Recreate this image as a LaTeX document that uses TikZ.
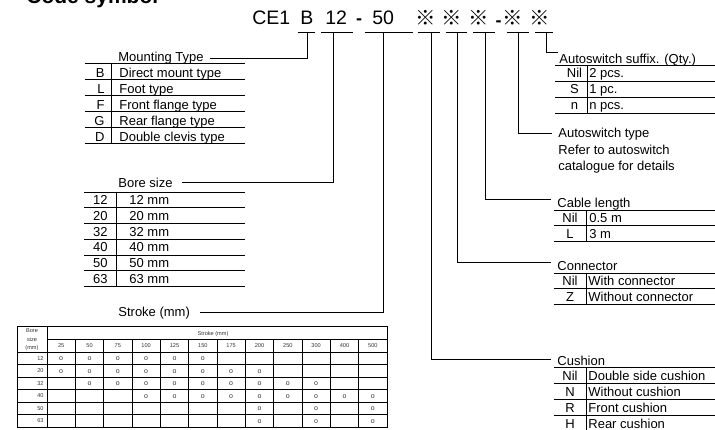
\documentclass[tikz,border=0pt]{standalone}
\usepackage{fontspec}
\setmainfont{Liberation Sans}
\newfontfamily\cjkf{Noto Sans CJK JP}
\begin{document}
\begin{tikzpicture}[x=1pt,y=-1pt,line width=0.8pt,
  txt/.style={inner sep=0pt,font=\fontsize{13}{15}\selectfont},
  hdr/.style={inner sep=0pt,font=\fontsize{19.5}{22}\selectfont,anchor=base west},
  refmark/.style={inner sep=0pt,font=\cjkf\fontsize{20.5}{22}\selectfont},
  dashmark/.style={inner sep=0pt,font=\bfseries\fontsize{18}{20}\selectfont,anchor=base},
  tiny/.style={inner sep=0pt,font=\fontsize{5.6}{6.5}\selectfont,text=black!80},
  circ/.style={inner sep=0pt,font=\fontsize{7}{8}\selectfont,text=black!80},
  rulel/.style={line width=0.8pt},
  thin/.style={line width=0.6pt},
  conn/.style={line width=0.9pt}]
\useasboundingbox (0,0) rectangle (715,429);
% title (cut off at top)
\node[inner sep=0pt,anchor=base west,font=\bfseries\fontsize{21}{24}\selectfont] (title) at (26,3.5) {Code symbol};
% header code
\node[hdr] (code) at (252,24.5) {CE1};
\node[hdr] (hB) at (300,24.5) {B};
\node[hdr] (h12) at (325,24.5) {12};
\node[dashmark] (d1) at (359,24.5) {-};
\node[hdr] (h50) at (372,24.5) {50};
\node[refmark] (s1) at (425.5,18) {※};
\node[refmark] (s2) at (452,18) {※};
\node[refmark] (s3) at (478.5,18) {※};
\node[dashmark] (d2) at (498.5,26) {-};
\node[refmark] (s4) at (512.5,18) {※};
\node[refmark] (s5) at (539.5,18) {※};
% underlines
\foreach \a/\b in {298/315,321/353,365/413,418/440,446/467,473/495,507/529,535/553}
  \draw[rulel] (\a,32) -- (\b,32);
\coordinate (uB) at (307,32);
\coordinate (u12) at (333,32);
\coordinate (u50) at (383,32);
\coordinate (u1) at (431,32);
\coordinate (u2) at (457,32);
\coordinate (u3) at (485,32);
\coordinate (u4) at (518,32);
\coordinate (u5) at (546,32);
% ---------- Mounting type ----------
\node[txt,anchor=base west] (mt) at (118,61.5) {Mounting Type};
\draw[conn] (uB) |- ([xshift=6pt]mt.east);
\draw[thin] (85,63) -- (245,63);
\draw[thin] (111,63) -- (111,143.5);
\foreach \y/\k/\t [count=\i] in {79/B/Direct mount type,95.5/L/Foot type,111.5/F/Front flange type,127.5/G/Rear flange type,143.5/D/Double clevis type}{
  \draw[thin] (85,\y) -- (245,\y);
  \node[txt,anchor=base east] (mk\i) at (105,\y-2) {\k};
  \node[txt,anchor=base west] (mv\i) at (119,\y-2) {\t};
}
% ---------- Bore size ----------
\node[txt,anchor=base west] (bs) at (118,187.5) {Bore size};
\draw[conn] (u12) |- ([xshift=9pt]bs.east);
\draw[thin] (84,192) -- (245,192);
\draw[thin] (116,192) -- (116,286.2);
\foreach \y/\k [count=\i] in {207.7/12,223.4/20,239.1/32,254.8/40,270.5/50,286.2/63}{
  \draw[thin] (84,\y) -- (245,\y);
  \node[txt,anchor=base east] (bk\i) at (108,\y-3) {\k};
  \node[txt,anchor=base west] (bv\i) at (129,\y-3) {\k{} mm};
}
% ---------- Stroke ----------
\node[txt,anchor=base west] (st) at (118,316) {Stroke (mm)};
\draw[conn] (u50) |- ([xshift=10pt]st.east);
% stroke table
\draw[thin] (17,326) rectangle (387,427);
\draw[thin] (47,326) -- (47,427);
\draw[thin] (47,339) -- (387,339);
\foreach \i in {1,...,11}
  \draw[thin] (47+28.333*\i,339) -- (47+28.333*\i,427);
\foreach \j in {0,...,5}
  \draw[thin] (17,352+12.5*\j) -- (387,352+12.5*\j);
\node[tiny,anchor=base] (tb1) at (32,332.5) {Bore};
\node[tiny,anchor=base] (tb2) at (32,341) {size};
\node[tiny,anchor=base] (tb3) at (32,349) {(mm)};
\node[tiny,anchor=base] (tst) at (213,335) {Stroke (mm)};
\foreach \v [count=\i from 0] in {25,50,75,100,125,150,175,200,250,300,400,500}
  \node[tiny,anchor=base] (sv\i) at (47+28.333*\i+14.17,347.5) {\v};
\foreach \v [count=\j from 0] in {12,20,32,40,50,63}
  \node[tiny,anchor=base] (rv\j) at (40.5,352+12.5*\j+8) {\v};
\foreach \j/\cols in {0/{0,1,2,3,4,5},1/{0,1,2,3,4,5,6,7},2/{1,2,3,4,5,6,7,8,9},3/{3,4,5,6,7,8,9,10,11},4/{7,9,11},5/{7,9,11}}{
  \foreach \c in \cols
    \node[circ] (o\j-\c) at (47+28.333*\c+14.17,352+12.5*\j+7) {o};
}
% ---------- Autoswitch suffix ----------
\coordinate (e5) at (558,52);
\draw[conn] (u5) |- (e5);
\node[txt,anchor=base west] (asx) at (559,63) {Autoswitch suffix. (Qty.)};
\draw[thin] (555,65) -- (715,65);
\draw[thin] (587,65) -- (587,113);
\foreach \y/\k/\t [count=\i] in {81/Nil/2 pcs.,97/S/1 pc.,113/n/n pcs.}{
  \draw[thin] (555,\y) -- (715,\y);
  \node[txt,anchor=base] (ak\i) at (574.5,\y-3.5) {\k};
  \node[txt,anchor=base west] (av\i) at (589,\y-3.5) {\t};
}
% ---------- Autoswitch type ----------
\coordinate (e4) at (552,133);
\draw[conn] (u4) |- (e4);
\node[txt,anchor=base west] (at1) at (558,137.5) {Autoswitch type};
\node[txt,anchor=base west] (at2) at (558,154) {Refer to autoswitch};
\node[txt,anchor=base west] (at3) at (558,170.5) {catalogue for details};
% ---------- Cable length ----------
\coordinate (e3) at (551,199);
\draw[conn] (u3) |- (e3);
\node[txt,anchor=base west] (cl) at (557,207) {Cable length};
\draw[thin] (554,210) -- (715,210);
\draw[thin] (586,210) -- (586,241);
\foreach \y/\k/\t [count=\i] in {225/Nil/0.5 m,241/L/3 m}{
  \draw[thin] (554,\y) -- (715,\y);
  \node[txt,anchor=base] (ck\i) at (570,\y-2.5) {\k};
  \node[txt,anchor=base west] (cv\i) at (589,\y-2.5) {\t};
}
% ---------- Connector ----------
\coordinate (e2) at (551,262);
\draw[conn] (u2) |- (e2);
\node[txt,anchor=base west] (cn) at (557,270) {Connector};
\draw[thin] (554,273) -- (715,273);
\draw[thin] (586,273) -- (586,304);
\foreach \y/\k/\t [count=\i] in {288/Nil/With connector,304/Z/Without connector}{
  \draw[thin] (554,\y) -- (715,\y);
  \node[txt,anchor=base] (nk\i) at (570,\y-2.5) {\k};
  \node[txt,anchor=base west] (nv\i) at (588,\y-2.5) {\t};
}
% ---------- Cushion ----------
\coordinate (e1) at (551,359);
\draw[conn] (u1) |- (e1);
\node[txt,anchor=base west] (cu) at (557,365.5) {Cushion};
\draw[thin] (554,367) -- (715,367);
\draw[thin] (586,367) -- (586,431);
\foreach \y/\k/\t [count=\i] in {383/Nil/Double side cushion,399/N/Without cushion,415/R/Front cushion,431/H/Rear cushion}{
  \draw[thin] (554,\y) -- (715,\y);
  \node[txt,anchor=base] (hk\i) at (570,\y-2.5) {\k};
  \node[txt,anchor=base west] (hv\i) at (588,\y-2.5) {\t};
}
\end{tikzpicture}
\end{document}
